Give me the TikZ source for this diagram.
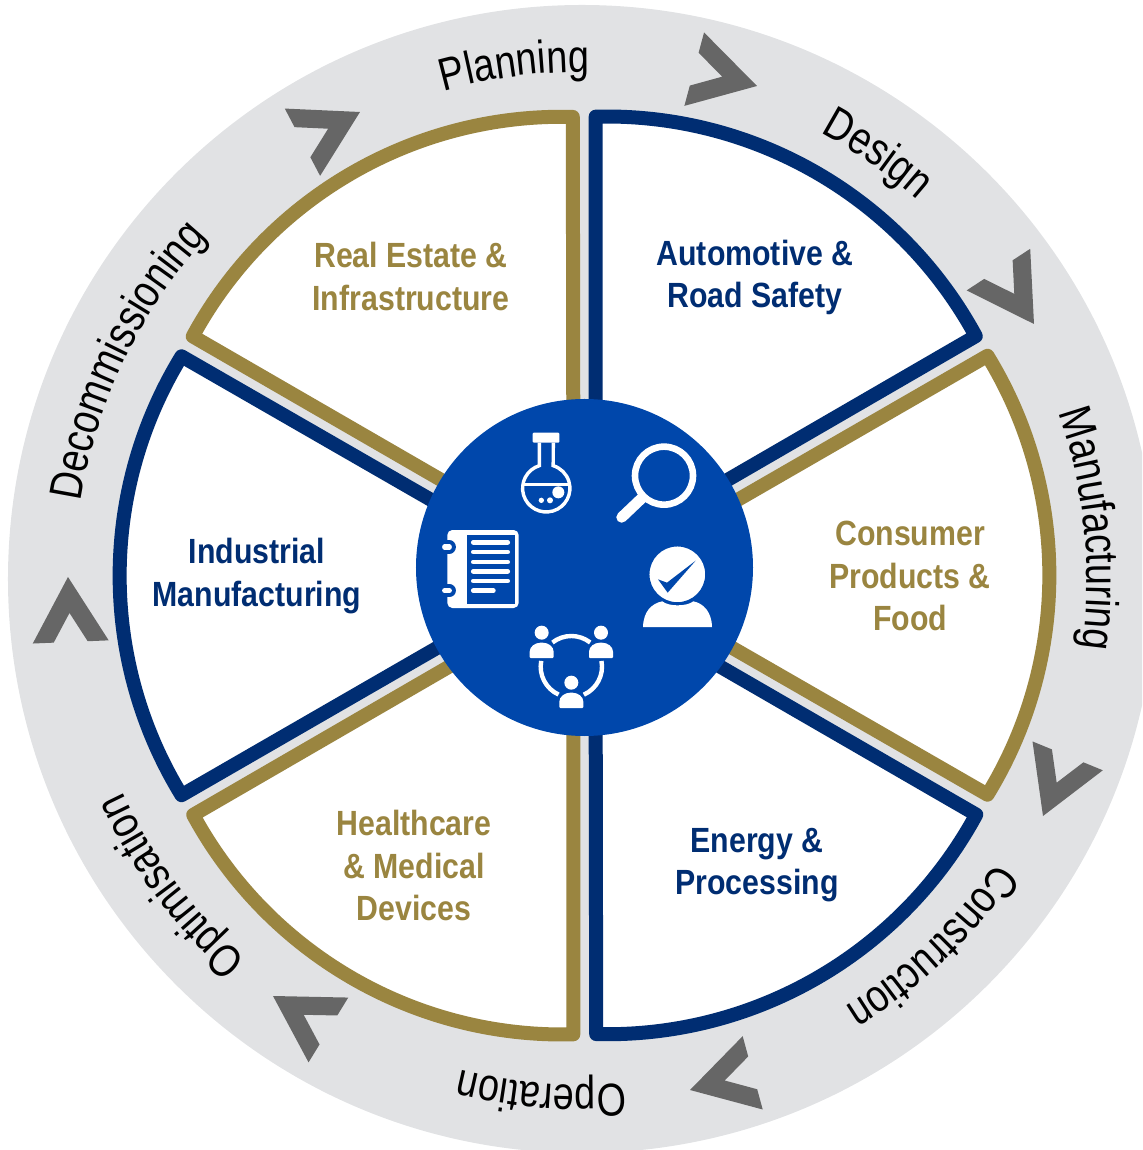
\documentclass[tikz,border=0pt]{standalone}
\usepackage{fontspec}
\setmainfont{Liberation Sans}[FakeStretch=0.865]
\newfontfamily\ringfamily[FakeStretch=0.82]{Liberation Sans}
\usetikzlibrary{decorations.text}
\definecolor{ringgrey}{HTML}{E1E2E4}
\definecolor{navyblue}{HTML}{002D72}
\definecolor{sectorgold}{HTML}{9A8540}
\definecolor{hubblue}{HTML}{0047AB}
\definecolor{chevrongrey}{HTML}{666666}
\newcommand{\ringfont}{\ringfamily\fontsize{23}{26}\selectfont}
\tikzset{
    sector/.style={fill=white, line width=7pt, line join=round},
    sectorlabel/.style={font=\bfseries\fontsize{17.5}{21.2}\selectfont, align=center, text=#1},
    chevron/.style={fill=chevrongrey},
    iconline/.style={draw=white, line width=1.7pt}
}
\begin{document}
\begin{tikzpicture}[x=0.5pt, y=0.5pt]
    \useasboundingbox (-584.5,-582.5) rectangle (557.5,567.5);
    \clip (-584.5,-582.5) rectangle (557.5,567.5);

    % Grey ring
    \fill[ringgrey] (-2.5,-11.5) circle (574);

    % Six sectors
    \foreach \b/\col in {60/navyblue, 0/sectorgold, -60/navyblue, -120/sectorgold, 180/navyblue, 120/sectorgold} {
        \pgfmathsetmacro{\sa}{\b+28.6}
        \pgfmathsetmacro{\aa}{\b+31.5}
        \pgfmathsetmacro{\ab}{\b-31.5}
        \begin{scope}[shift={(0,-8)}]
            \draw[sector, draw=\col] (\b:22) -- (\sa:459) arc[start angle=\aa, end angle=\ab, radius=420] -- cycle;
        \end{scope}
    }

    % Chevrons
    \foreach \tx/\ty/\rot in {172.5/481.5/-15, 449.5/243.5/-56.8, 458.5/-248.5/247.7, 105.5/-522.5/195.3,
                              -311.5/-428.5/148.5, -516.5/-9.5/92.4, -224.5/455.5/27.7} {
        \fill[chevron, shift={(\tx,\ty)}, rotate=\rot] (0,0) -- (-65,38) -- (-65,17) -- (-36,0) -- (-65,-17) -- (-65,-38) -- cycle;
    }

    % Ring labels
    \foreach \txt/\ang/\rad in {Planning/97.5/507, Design/55.2/506, Manufacturing/5.7/505, Construction/-46.4/502,
                                Operation/265.5/506, Optimisation/216.7/507, Decommissioning/154.4/507} {
        \pgfmathsetmacro{\sa}{\ang+50}
        \pgfmathsetmacro{\sb}{\ang-50}
        \begin{scope}[shift={(-2.5,-11.5)}]
            \path[decorate, decoration={text along path, text align=center, text/.expanded={|\noexpand\ringfont|\txt}}]
                (\sa:\rad) arc[start angle=\sa, end angle=\sb, radius=\rad];
        \end{scope}
    }

    % Sector labels
    \node[sectorlabel=sectorgold] (realestate) at (-173.5,291) {Real Estate \&\\Infrastructure};
    \node[sectorlabel=navyblue] (automotive) at (170.5,290) {Automotive \&\\Road Safety};
    \node[sectorlabel=sectorgold] (consumer) at (325.5,-8.5) {Consumer\\Products \&\\Food};
    \node[sectorlabel=navyblue] (energy) at (172.5,-297.5) {Energy \&\\Processing};
    \node[sectorlabel=sectorgold] (healthcare) at (-170.5,-298) {Healthcare\\\& Medical\\Devices};
    \node[sectorlabel=navyblue] (industrial) at (-327.5,-8.5) {Industrial\\Manufacturing};

    % Hub
    \fill[hubblue] (0,0) circle (168.5);

    % Hub icons
    \begin{scope}[shift={(-174.5,177.5)}, x=0.16667pt, y=-0.16667pt]
        % flask
        \fill[white, rounded corners=0.5pt] (368,128) rectangle (448,158);
        \draw[iconline] (388,158) -- (388,227) arc[start angle=253, end angle=-73, radius=71] -- (430,158);
        \draw[iconline] (340,284) -- (478,284);
        \fill[white] (445,307) circle (18) (420,331) circle (9) (394,331) circle (8);
        % magnifier
        \draw[white, line width=3.3pt] (762,257) circle (87);
        \draw[white, line width=5.4pt, line cap=round] (695,325) -- (635,382);
        % person with check
        \fill[white] (699,711) .. controls (700,665) and (725,640) .. (757,634) .. controls (775,650) and (830,650) .. (850,634) .. controls (880,640) and (905,665) .. (906,711) -- cycle;
        \filldraw[fill=white, draw=hubblue, line width=0.8pt] (802,553) circle (86);
        \fill[hubblue] (744,568) -- (771,578) -- (857,512) -- (773,608) -- cycle;
        % notebook
        \fill[white, rounded corners=2.5pt] (112,420) rectangle (326,654);
        \fill[hubblue] (170,435) rectangle (316,642);
        \foreach \ly in {471,602} {
            \draw[hubblue, line width=6.6pt, line cap=round] (90,\ly) -- (118,\ly);
            \draw[white, line width=2.6pt, line cap=round] (104,\ly) -- (118,\ly);
        }
        \foreach \ly in {457,486,516,544,573} {
            \draw[white, line width=2.4pt, line cap=round] (190,\ly) -- (293,\ly);
        }
        \draw[white, line width=2.4pt, line cap=round] (190,602) -- (250,602);
        % group around a circle
        \draw[white, line width=2.2pt] (484,830) ++(232:92) arc[start angle=232, end angle=308, radius=92];
        \draw[white, line width=2.2pt] (484,830) ++(190.8:92) arc[start angle=190.8, end angle=114.6, radius=92];
        \draw[white, line width=2.2pt] (484,830) ++(-10.8:92) arc[start angle=-10.8, end angle=66, radius=92];
        \foreach \px/\py in {395/728, 573/728, 484/878} {
            \fill[white] (\px,\py) circle (21);
            \fill[white, rounded corners=0.5pt] (\px-36,\py+76) -- (\px-36,\py+60) .. controls (\px-36,\py+42) and (\px-20,\py+30) .. (\px,\py+30) .. controls (\px+20,\py+30) and (\px+36,\py+42) .. (\px+36,\py+60) -- (\px+36,\py+76) -- cycle;
        }
    \end{scope}
\end{tikzpicture}
\end{document}
